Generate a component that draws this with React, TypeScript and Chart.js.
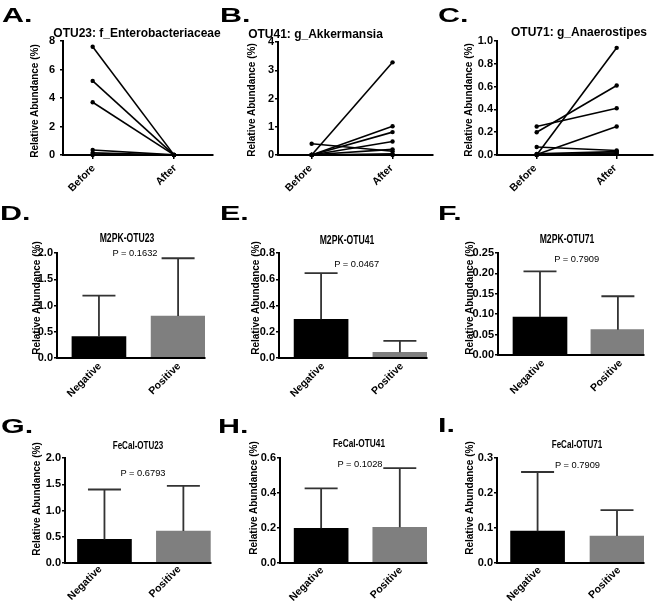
import React, { useEffect, useRef } from 'react';
import { Chart, registerables } from 'chart.js';

Chart.register(...registerables);

// ---------- data ----------
const TIMEPOINTS = ['Before', 'After'];
const GROUPS = ['Negative', 'Positive'];

const otu23Before = [7.6, 5.2, 3.7, 0.35, 0.15, 0.05, 0.0];
const otu23After = [0.01, 0.01, 0.01, 0.01, 0.0, 0.0, 0.0];
const otu41Before = [0.0, 0.0, 0.0, 0.0, 0.01, 0.4, 0.0, 0.0];
const otu41After = [3.28, 1.02, 0.81, 0.48, 0.2, 0.13, 0.04, 0.0];
const otu71Before = [0.0, 0.2, 0.25, 0.005, 0.07, 0.01, 0.0, 0.0];
const otu71After = [0.94, 0.61, 0.41, 0.25, 0.04, 0.03, 0.02, 0.01];

const m2pkOtu23Mean = [0.41, 0.8];
const m2pkOtu23Sd = [0.78, 1.1];
const m2pkOtu41Mean = [0.295, 0.043];
const m2pkOtu41Sd = [0.352, 0.088];
const m2pkOtu71Mean = [0.093, 0.062];
const m2pkOtu71Sd = [0.112, 0.082];
const fecalOtu23Mean = [0.45, 0.61];
const fecalOtu23Sd = [0.95, 0.86];
const fecalOtu41Mean = [0.198, 0.204];
const fecalOtu41Sd = [0.228, 0.338];
const fecalOtu71Mean = [0.091, 0.077];
const fecalOtu71Sd = [0.169, 0.074];

const pValues = ['P = 0.1632', 'P = 0.0467', 'P = 0.7909', 'P = 0.6793', 'P = 0.1028', 'P = 0.7909'];
const titles = [
  'OTU23: f_Enterobacteriaceae', 'OTU41: g_Akkermansia', 'OTU71: g_Anaerostipes',
  'M2PK-OTU23', 'M2PK-OTU41', 'M2PK-OTU71',
  'FeCal-OTU23', 'FeCal-OTU41', 'FeCal-OTU71',
];
const letters = ['A.', 'B.', 'C.', 'D.', 'E.', 'F.', 'G.', 'H.', 'I.'];
const yAxisTitle = 'Relative Abundance (%)';

const ticksA = [0, 2, 4, 6, 8];
const ticksB = [0, 1, 2, 3, 4];
const ticksC = [0, 0.2, 0.4, 0.6, 0.8, 1.0];
const ticksD = [0, 0.5, 1.0, 1.5, 2.0];
const ticksE = [0, 0.2, 0.4, 0.6, 0.8];
const ticksF = [0, 0.05, 0.1, 0.15, 0.2, 0.25];
const ticksG = [0, 0.5, 1.0, 1.5, 2.0];
const ticksH = [0, 0.2, 0.4, 0.6];
const ticksI = [0, 0.1, 0.2, 0.3];

// ---------- layout ----------
const FONT = '"Liberation Sans", Arial, Helvetica, sans-serif';

type Panel = {
  kind: 'line' | 'bar';
  cell: [number, number, number, number];
  area: [number, number, number, number]; // left, top, right, bottom
  xRange: [number, number];
  yTicks: number[];
  dec: number;
  yPad: number;
  xLab: [number, number]; // label offset, padding
  before?: number[];
  after?: number[];
  mean?: number[];
  sd?: number[];
};

const panels: Panel[] = [
  { kind: 'line', cell: [0, 0, 220, 200], area: [63, 41, 213, 155], xRange: [-0.365, 1.48], yTicks: ticksA, dec: 0, yPad: 5, xLab: [1, 3], before: otu23Before, after: otu23After },
  { kind: 'line', cell: [220, 0, 220, 200], area: [278, 42, 433, 155], xRange: [-0.416, 1.5], yTicks: ticksB, dec: 0, yPad: 1, xLab: [-1, 3], before: otu41Before, after: otu41After },
  { kind: 'line', cell: [440, 0, 220, 200], area: [497, 41, 653, 155], xRange: [-0.496, 1.454], yTicks: ticksC, dec: 1, yPad: 1, xLab: [-1.5, 3], before: otu71Before, after: otu71After },
  { kind: 'bar', cell: [0, 200, 220, 200], area: [57, 253, 205, 358], xRange: [-0.53, 1.34], yTicks: ticksD, dec: 1, yPad: 1, xLab: [1, 2], mean: m2pkOtu23Mean, sd: m2pkOtu23Sd },
  { kind: 'bar', cell: [220, 200, 220, 200], area: [279, 253, 427, 358], xRange: [-0.534, 1.344], yTicks: ticksE, dec: 1, yPad: 1, xLab: [2, 2], mean: m2pkOtu41Mean, sd: m2pkOtu41Sd },
  { kind: 'bar', cell: [440, 200, 220, 200], area: [498, 253, 644, 355], xRange: [-0.539, 1.335], yTicks: ticksF, dec: 2, yPad: 1, xLab: [3, 2], mean: m2pkOtu71Mean, sd: m2pkOtu71Sd },
  { kind: 'bar', cell: [0, 400, 220, 208], area: [65, 458, 211, 563], xRange: [-0.5, 1.35], yTicks: ticksG, dec: 1, yPad: 1, xLab: [-4, 0], mean: fecalOtu23Mean, sd: fecalOtu23Sd },
  { kind: 'bar', cell: [220, 400, 220, 208], area: [280, 458, 427, 563], xRange: [-0.523, 1.346], yTicks: ticksH, dec: 1, yPad: 1, xLab: [1, 1], mean: fecalOtu41Mean, sd: fecalOtu41Sd },
  { kind: 'bar', cell: [440, 400, 220, 208], area: [497, 458, 644, 563], xRange: [-0.511, 1.34], yTicks: ticksI, dec: 1, yPad: 1, xLab: [2, 1], mean: fecalOtu71Mean, sd: fecalOtu71Sd },
];

// text placement (page coordinates)
const letterPos = [[2, 4], [220, 4], [438, 4], [0, 202], [220, 202], [438, 202], [1, 415], [218, 415], [438, 414]];
const titlePos = [[137, 32.5], [315.5, 33.5], [579, 32], [127, 237.5], [346.7, 239.5], [567, 239], [138, 445.5], [359, 444], [576.7, 444.5]];
const titleStyle = [[12, 1], [12, 1], [12, 1], [12, 0.72], [12, 0.72], [12, 0.72], [11.5, 0.7], [11.5, 0.72], [11.5, 0.7]];
const pPos = [[135, 252.5], [356.7, 263.5], [576.7, 259], [143, 473.3], [360, 463.7], [577.5, 465]];
const yTitlePos = [[34.5, 100.5], [252, 100], [469, 100], [36.7, 298], [255.7, 297.5], [470, 298], [36.7, 499], [254.3, 498], [470, 497.5]];

const errorBarPlugin = {
  id: 'errorBars',
  afterDatasetsDraw(chart: any) {
    const ds = chart.data.datasets[0];
    if (!ds || !ds.errors) return;
    const meta = chart.getDatasetMeta(0);
    const yScale = chart.scales.y;
    const ctx = chart.ctx;
    ctx.save();
    ctx.strokeStyle = '#333333';
    ctx.lineWidth = 1.8;
    meta.data.forEach((el: any, i: number) => {
      const v = ds.data[i].y;
      const top = yScale.getPixelForValue(v + ds.errors[i]);
      const base = yScale.getPixelForValue(v);
      const cap = 16.5;
      ctx.beginPath();
      ctx.moveTo(el.x, base);
      ctx.lineTo(el.x, top);
      ctx.moveTo(el.x - cap, top);
      ctx.lineTo(el.x + cap, top);
      ctx.stroke();
    });
    ctx.restore();
  },
};

function buildConfig(p: Panel): any {
  const [cx, cy, cw, ch] = p.cell;
  const [al, at, ar, ab] = p.area;
  const isLine = p.kind === 'line';
  const yTickFont = { family: FONT, size: 11, weight: 'bold' as const };
  const xTickFont = { family: FONT, size: 10.5, weight: 'bold' as const };
  const labels = isLine ? TIMEPOINTS : GROUPS;

  let datasets: any[];
  if (isLine) {
    datasets = (p.before || []).map((b, i) => ({
      data: [{ x: 0, y: b }, { x: 1, y: (p.after || [])[i] }],
      borderColor: '#000',
      borderWidth: 1.6,
      pointRadius: 2.2,
      pointBackgroundColor: '#000',
      pointBorderWidth: 0,
      clip: false,
    }));
  } else {
    datasets = [{
      data: (p.mean || []).map((m, i) => ({ x: i, y: m })),
      errors: p.sd,
      backgroundColor: ['#000000', '#7f7f7f'],
      borderWidth: 0,
      barThickness: 54,
    }];
  }

  return {
    type: isLine ? 'line' : 'bar',
    data: { datasets },
    plugins: isLine ? [] : [errorBarPlugin],
    options: {
      responsive: false,
      animation: false,
      events: [],
      layout: { padding: { left: 0, top: at - cy, right: cx + cw - ar, bottom: 0 } },
      plugins: { legend: { display: false }, tooltip: { enabled: false }, title: { display: false } },
      scales: {
        x: {
          type: 'linear',
          min: p.xRange[0],
          max: p.xRange[1],
          offset: false,
          afterFit: (s: any) => { s.height = cy + ch - ab; },
          afterBuildTicks: (s: any) => { s.ticks = [0, 1].map((v) => ({ value: v })); },
          ticks: {
            callback: (v: any) => labels[Math.round(Number(v))],
            minRotation: 45,
            maxRotation: 45,
            autoSkip: false,
            font: xTickFont,
            color: '#000',
            padding: p.xLab[1],
            labelOffset: p.xLab[0],
          },
          grid: { display: true, drawOnChartArea: false, drawTicks: isLine, tickLength: 4, color: '#000', lineWidth: 1.5 },
          border: { display: true, color: '#000', width: 2, z: 1 },
        },
        y: {
          type: 'linear',
          min: 0,
          max: p.yTicks[p.yTicks.length - 1],
          afterFit: (s: any) => { s.width = al - cx; },
          afterBuildTicks: (s: any) => { s.ticks = p.yTicks.map((v) => ({ value: v })); },
          ticks: {
            callback: (v: any) => Number(v).toFixed(p.dec),
            font: yTickFont,
            color: '#000',
            padding: p.yPad,
          },
          grid: { display: true, drawOnChartArea: false, drawTicks: true, tickLength: 3, color: '#000', lineWidth: 1.5 },
          border: { display: true, color: '#000', width: 2, z: 1 },
        },
      },
    },
  };
}

function PanelChart({ p }: { p: Panel }) {
  const ref = useRef<HTMLCanvasElement>(null);
  useEffect(() => {
    if (!ref.current) return;
    const chart = new Chart(ref.current, buildConfig(p));
    return () => chart.destroy();
  }, [p]);
  const [cx, cy, cw, ch] = p.cell;
  return (
    <canvas
      ref={ref}
      width={cw}
      height={ch}
      style={{ position: 'absolute', left: cx, top: cy, width: cw, height: ch }}
    />
  );
}

export default function App() {
  const abs: React.CSSProperties = { position: 'absolute', whiteSpace: 'nowrap', fontFamily: FONT, color: '#000' };
  return (
    <div style={{ position: 'absolute', left: 0, top: 0, width: 660, height: 608, background: '#fff', overflow: 'hidden' }}>
      {panels.map((p, i) => <PanelChart key={i} p={p} />)}
      {letters.map((t, i) => (
        <div key={'l' + i} style={{ ...abs, left: letterPos[i][0], top: letterPos[i][1], fontSize: 21, lineHeight: '21px', fontWeight: 'bold', transform: 'scaleX(1.45)', transformOrigin: 'left top' }}>{t}</div>
      ))}
      {titles.map((t, i) => (
        <div key={'t' + i} style={{ ...abs, left: titlePos[i][0], top: titlePos[i][1], fontSize: titleStyle[i][0], lineHeight: `${titleStyle[i][0]}px`, fontWeight: 'bold', transform: `translate(-50%, -50%) scaleX(${titleStyle[i][1]})` }}>{t}</div>
      ))}
      {pValues.map((t, i) => (
        <div key={'p' + i} style={{ ...abs, left: pPos[i][0], top: pPos[i][1], fontSize: 9.3, lineHeight: '10px', transform: 'translate(-50%, -50%)' }}>{t}</div>
      ))}
      {yTitlePos.map((pos, i) => (
        <div key={'y' + i} style={{ ...abs, left: pos[0], top: pos[1], fontSize: 10, lineHeight: '10px', fontWeight: 'bold', transform: 'translate(-50%, -50%) rotate(-90deg)' }}>{yAxisTitle}</div>
      ))}
    </div>
  );
}
